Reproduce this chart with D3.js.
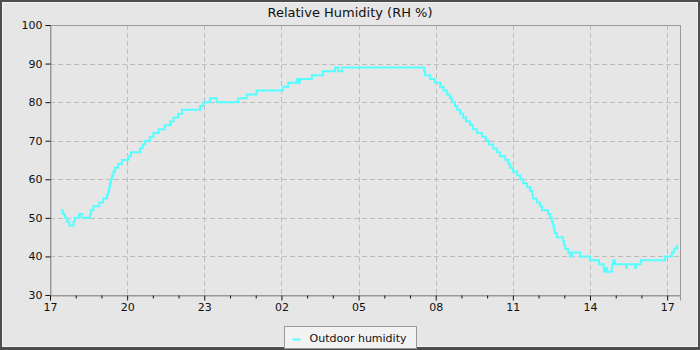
<!DOCTYPE html>
<html>
<head>
<meta charset="utf-8">
<script src="https://cdn.jsdelivr.net/npm/d3@7"></script>
<style>
  body { margin: 0; background: #e6e6e6; }
  text { font-family: "DejaVu Sans", sans-serif; fill: #111; }
</style>
</head>
<body>
<div class="chart"></div>
<script>
// Relative humidity over ~24h, readings as "HH:MM" (rolls into next day)
var times = [
  "17:25","17:30","17:35","17:40","17:45","17:51","17:55","17:58","18:08","18:14",
  "18:32","18:34","18:36","18:41","18:47","18:55","19:04","19:08","19:13","19:16",
  "19:18","19:20","19:22","19:25","19:28","19:32","19:39","19:48","20:02","20:09",
  "20:23","20:30","20:36","20:42","20:53","21:01","21:13","21:28","21:40","21:48",
  "21:59","22:08","22:45","22:50","22:58","23:09","23:13","23:25","23:29","00:14",
  "00:19","00:33","00:39","00:58","01:02","02:01","02:04","02:13","02:16","02:34",
  "02:36","02:39","02:43","03:09","03:11","03:34","03:37","04:03","04:05","04:12",
  "04:17","04:21","07:31","07:33","07:35","07:44","07:47","07:56","07:58","08:03",
  "08:10","08:18","08:26","08:33","08:38","08:45","08:50","08:57","09:04","09:11",
  "09:20","09:27","09:36","09:48","09:57","10:04","10:14","10:23","10:30","10:42",
  "10:49","10:53","11:00","11:10","11:17","11:24","11:33","11:40","11:45","11:47",
  "11:56","12:03","12:08","12:17","12:22","12:27","12:31","12:33","12:36","12:38",
  "12:43","12:52","12:57","12:59","13:02","13:09","13:13","13:18","13:32","13:37",
  "13:55","14:00","14:16","14:21","14:30","14:32","14:33","14:37","14:40","14:49",
  "14:51","14:52","14:54","14:58","15:22","15:24","15:26","15:43","15:45","15:47",
  "15:57","15:59","16:53","16:55","17:07","17:11","17:16","17:23"
];
var humidity = [
  52,51,50,49,48,48,49,50,51,50,
  50,51,52,53,53,54,55,55,56,57,
  58,59,60,61,62,63,64,65,66,67,
  67,68,69,70,71,72,73,74,75,76,
  77,78,78,79,80,80,81,81,80,80,
  81,81,82,82,83,83,84,84,85,85,
  86,85,86,86,87,87,88,88,89,88,
  88,89,89,88,87,87,86,86,85,85,
  84,83,82,81,80,79,78,77,76,75,
  74,73,72,71,70,69,68,67,66,65,
  64,63,62,61,60,59,58,57,56,55,
  54,53,52,52,51,50,49,48,47,46,
  45,45,44,43,42,41,40,41,41,40,
  40,39,39,38,38,37,36,37,36,36,
  37,38,39,38,38,37,38,38,37,38,
  38,39,39,40,40,41,42,43
];
var yTicks = [30, 40, 50, 60, 70, 80, 90, 100];
var seriesName = "Outdoor humidity";
var chartTitle = "Relative Humidity (RH %)";

var svgWidth = 700;
var svgHeight = 350;
var margin = { top: 25, right: 20, bottom: 55, left: 50 };
var width = svgWidth - margin.left - margin.right;
var height = svgHeight - margin.top - margin.bottom;

// build dates, rolling over to next day when clock goes backwards
var start = new Date(2024, 0, 1, 17, 0);
var day = 0, prev = -1;
var data = times.map(function (t, i) {
  var p = t.split(":");
  var mins = +p[0] * 60 + +p[1];
  if (mins < prev) day++;
  prev = mins;
  return { date: new Date(2024, 0, 1 + day, +p[0], +p[1]), value: humidity[i] };
});
var end = new Date(start.getTime() + 24.5 * 3600 * 1000);

var svg = d3.select(".chart")
  .append("svg")
  .attr("width", svgWidth)
  .attr("height", svgHeight)
  .style("display", "block");

// frame
svg.append("rect")
  .attr("width", svgWidth).attr("height", svgHeight)
  .attr("fill", "#4d4d4d");
svg.append("rect")
  .attr("x", 2.5).attr("y", 2.5)
  .attr("width", svgWidth - 5).attr("height", svgHeight - 6)
  .attr("fill", "#e6e6e6")
  .attr("stroke", "#f4f4f4");

svg.append("text")
  .attr("x", svgWidth / 2)
  .attr("y", 17)
  .attr("text-anchor", "middle")
  .attr("font-size", 13)
  .text(chartTitle);

var chartGroup = svg.append("g")
  .attr("transform", `translate(${margin.left}, ${margin.top})`);

var x = d3.scaleTime().domain([start, end]).range([0, width]);
var y = d3.scaleLinear().domain([30, 100]).range([height, 0]);

var hours = d3.timeHour.range(start, end);
var majorTicks = hours.filter((d, i) => i % 3 === 0);

// grid
chartGroup.selectAll(".vgrid")
  .data(majorTicks.slice(1))
  .enter().append("line")
  .attr("x1", d => Math.round(x(d)) + 0.5).attr("x2", d => Math.round(x(d)) + 0.5)
  .attr("y1", 0).attr("y2", height)
  .attr("stroke", "#bdbdbd")
  .attr("stroke-dasharray", "5,3");

chartGroup.selectAll(".hgrid")
  .data(yTicks.slice(1, -1))
  .enter().append("line")
  .attr("x1", 0).attr("x2", width)
  .attr("y1", d => Math.round(y(d)) + 0.5).attr("y2", d => Math.round(y(d)) + 0.5)
  .attr("stroke", "#bdbdbd")
  .attr("stroke-dasharray", "5,3");

// plot border
chartGroup.append("rect")
  .attr("x", 0.5).attr("y", 0.5)
  .attr("width", width).attr("height", height)
  .attr("fill", "none")
  .attr("stroke", "#999");

// axes
var bottomAxis = d3.axisBottom(x)
  .tickValues(majorTicks)
  .tickFormat(d3.timeFormat("%H"))
  .tickSize(5)
  .tickPadding(3);
var minorAxis = d3.axisBottom(x)
  .tickValues(hours.filter((d, i) => i % 3 !== 0))
  .tickFormat("")
  .tickSize(3);
var leftAxis = d3.axisLeft(y)
  .tickValues(yTicks)
  .tickSize(5)
  .tickPadding(3);

chartGroup.append("g")
  .attr("transform", `translate(0, ${height + 0.5})`)
  .call(bottomAxis);
chartGroup.append("g")
  .attr("transform", `translate(0, ${height + 0.5})`)
  .call(minorAxis)
  .call(g => g.select(".domain").remove());
chartGroup.append("g")
  .attr("transform", "translate(0.5, 0)")
  .call(leftAxis);

chartGroup.selectAll(".domain").attr("stroke", "#999");
chartGroup.selectAll(".tick line").attr("stroke", "#111");
chartGroup.selectAll(".tick text")
  .attr("font-size", 11)
  .attr("font-family", "DejaVu Sans, sans-serif")
  .attr("fill", "#111");

// humidity line (readings change in whole percent steps)
var line = d3.line()
  .curve(d3.curveStepAfter)
  .x(d => x(d.date))
  .y(d => y(d.value));

chartGroup.append("path")
  .datum(data)
  .attr("fill", "none")
  .attr("stroke", "#55ffff")
  .attr("stroke-width", 2)
  .attr("d", line);

// legend
var legend = svg.append("g")
  .attr("transform", "translate(284.5, 326.5)");
legend.append("rect")
  .attr("width", 132).attr("height", 22)
  .attr("fill", "#f2f2f2")
  .attr("stroke", "#999");
legend.append("line")
  .attr("x1", 8).attr("x2", 16)
  .attr("y1", 13).attr("y2", 13)
  .attr("stroke", "#55ffff")
  .attr("stroke-width", 2);
legend.append("text")
  .attr("x", 25)
  .attr("y", 15)
  .attr("font-size", 11)
  .text(seriesName);
</script>
</body>
</html>
